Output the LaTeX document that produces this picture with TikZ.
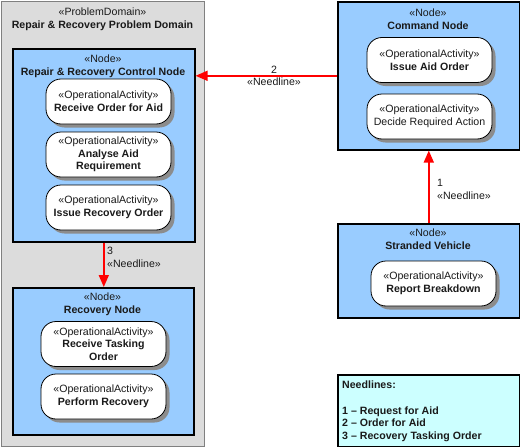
\documentclass[tikz,border=0pt]{standalone}
\usepackage{fontspec}
\setmainfont{Liberation Sans}
\usetikzlibrary{arrows.meta,shadows}
\definecolor{nodeblue}{HTML}{99CCFF}
\definecolor{pdgray}{HTML}{DCDCDC}
\definecolor{legcyan}{HTML}{CCFFFF}
\definecolor{txt}{HTML}{1A1A1A}
\definecolor{shadowgray}{HTML}{8C8C8C}
\definecolor{needred}{HTML}{FF0000}
\begin{document}
\begin{tikzpicture}[x=1pt,y=-1pt,
  font=\fontsize{10.6}{12.6}\selectfont, text=txt,
  domainbox/.style={draw=gray, line width=0.9pt, fill=pdgray, inner sep=0pt, anchor=north west},
  container/.style={draw=black, line width=1.6pt, fill=nodeblue, inner sep=0pt, anchor=north west},
  legendbox/.style={draw=black, line width=1.6pt, fill=legcyan, inner sep=0pt, anchor=north west},
  act/.style={draw=black, line width=0.8pt, fill=white, rounded corners=15pt,
    minimum width=125pt, minimum height=45pt, align=center, inner sep=0pt,
    drop shadow={shadow xshift=3.5pt, shadow yshift=-3.5pt, fill=shadowgray, opacity=1}},
  title/.style={align=center, inner sep=0pt},
  lbl/.style={align=left, inner sep=0pt, anchor=west},
  needline/.style={draw=needred, line width=1.6pt, -{Triangle[length=12pt,width=10pt]}}
]
\useasboundingbox (0,0) rectangle (520,447);

% containers
\node[domainbox, minimum width=203pt, minimum height=445pt] (pd) at (1,1) {};
\node[title] (pdt) at (102.5,19) {«ProblemDomain»\\\textbf{Repair \& Recovery Problem Domain}};

\node[container, minimum width=182pt, minimum height=193pt] (ctrl) at (12,48) {};
\node[title] (ctrlt) at (103,66) {«Node»\\\textbf{Repair \& Recovery Control Node}};

\node[container, minimum width=181pt, minimum height=147pt] (rec) at (12,287) {};
\node[title] (rect) at (102.5,304) {«Node»\\\textbf{Recovery Node}};

\node[container, minimum width=182pt, minimum height=148pt] (cmd) at (337,1) {};
\node[title] (cmdt) at (428,19) {«Node»\\\textbf{Command Node}};

\node[container, minimum width=182pt, minimum height=94pt] (sv) at (337,223) {};
\node[title] (svt) at (428,239.5) {«Node»\\\textbf{Stranded Vehicle}};

\node[legendbox, minimum width=182pt, minimum height=72pt] (leg) at (337,374) {};
\node[align=left, inner sep=0pt, anchor=north west] (legt) at (342,381)
  {\textbf{Needlines:}\\[12.6pt]\textbf{1 – Request for Aid}\\\textbf{2 – Order for Aid}\\\textbf{3 – Recovery Tasking Order}};

% activities
\node[act] (a1) at (108.5,101.5) {«OperationalActivity»\\\textbf{Receive Order for Aid}};
\node[act] (a2) at (108.5,154.5) {«OperationalActivity»\\\textbf{Analyse Aid}\\\textbf{Requirement}};
\node[act] (a3) at (108.5,207.5) {«OperationalActivity»\\\textbf{Issue Recovery Order}};

\node[act] (r1) at (103.5,344) {«OperationalActivity»\\\textbf{Receive Tasking}\\\textbf{Order}};
\node[act] (r2) at (103.5,396.5) {«OperationalActivity»\\\textbf{Perform Recovery}};

\node[act] (c1) at (429.5,60) {«OperationalActivity»\\\textbf{Issue Aid Order}};
\node[act] (c2) at (429.5,116.5) {«OperationalActivity»\\Decide Required Action};

\node[act] (s1) at (433.5,283.5) {«OperationalActivity»\\\textbf{Report Breakdown}};

% needlines
\draw[needline] (sv.north) -- (cmd.south);
\draw[needline] (cmd.west) -- (ctrl.east |- cmd.west);
\draw[needline] (ctrl.south) -- (ctrl.south |- rec.north);

\node[lbl] (l1) at (437,189.5) {1\\«Needline»};
\node[title] (l2) at (274,76) {2\\«Needline»};
\node[lbl] (l3) at (107,257.5) {3\\«Needline»};
\end{tikzpicture}
\end{document}
